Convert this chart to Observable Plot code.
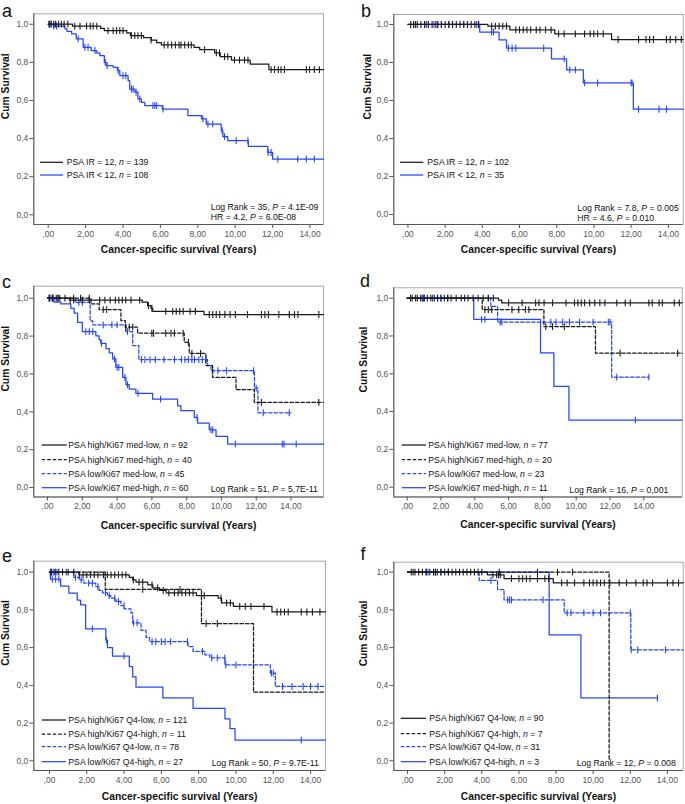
<!DOCTYPE html>
<html><head><meta charset="utf-8">
<script src="https://cdn.jsdelivr.net/npm/d3@7"></script>
<script src="https://cdn.jsdelivr.net/npm/@observablehq/plot@0.6"></script>
<style>
body{margin:0;background:#fff;}
#root{position:relative;width:685px;height:804px;overflow:hidden;font-family:"Liberation Sans",Arial,sans-serif;background:#fff;}
#root > svg.panel{position:absolute;overflow:visible;}
#overlay{position:absolute;left:0;top:0;pointer-events:none;}
</style></head>
<body><div id="root"></div>
<script>
// ---------- shared labels ----------
const xTicks = [0, 2, 4, 6, 8, 10, 12, 14];
const yTicks = [0, 0.2, 0.4, 0.6, 0.8, 1.0];
const xTitle = "Cancer-specific survival (Years)";
const yTitle = "Cum Survival";
const panelLetters = ["a", "b", "c", "d", "e", "f"];

// ---------- panel a ----------
const aGroups = ["PSA IR = 12", "PSA IR < 12"];
const aCounts = [139, 108];
const aStats = ["Log Rank = 35", "4.1E-09", "HR = 4.2", "6.0E-08"];
const aHighSteps = [[0,1],[1.3,0.99],[2.8,0.978],[3.0,0.966],[4.2,0.954],[4.4,0.94],[5.1,0.93],[5.5,0.917],[5.8,0.904],[6.05,0.891],[7.8,0.879],[8.1,0.866],[8.9,0.85],[9.2,0.83],[9.8,0.812],[10.8,0.79],[11.8,0.762],[14.72,0.762]];
const aHighCensor = [0.05,0.15,0.3,0.4,0.55,0.7,0.85,1.05,1.42,1.7,2.05,2.25,2.4,2.6,3.2,3.47,3.65,3.83,4.0,4.45,4.63,4.8,4.98,5.5,6.2,6.4,6.6,6.8,7.0,7.1,7.3,7.5,7.65,8.36,8.99,9.16,9.43,9.6,9.96,10.23,10.5,10.68,11.92,12.1,12.3,12.45,12.63,13.8,13.97,14.23,14.5];
const aLowSteps = [[0,1],[0.27,0.99],[0.9,0.975],[1.0,0.963],[1.25,0.949],[1.5,0.923],[1.87,0.879],[2.3,0.862],[2.6,0.848],[2.76,0.835],[3.0,0.8],[3.1,0.783],[3.47,0.774],[3.7,0.757],[3.83,0.73],[4.27,0.704],[4.36,0.66],[4.63,0.643],[4.8,0.608],[4.98,0.59],[5.16,0.573],[6.1,0.555],[7.47,0.52],[8.2,0.503],[8.45,0.476],[9.25,0.441],[9.34,0.41],[9.6,0.389],[10.7,0.359],[11.74,0.327],[12.0,0.292],[14.72,0.292]];
const aLowCensor = [0.05,0.15,0.3,0.45,1.6,1.96,2.13,2.5,3.05,3.15,3.74,4.0,4.15,4.45,4.54,4.7,4.9,5.6,5.7,5.8,6.14,8.27,8.54,8.8,9.3,9.43,10.05,10.68,11.76,11.92,12.28,13.34,13.8,14.23];

// ---------- panel b ----------
const bGroups = ["PSA IR = 12", "PSA IR < 12"];
const bCounts = [102, 35];
const bStats = ["Log Rank = 7.8", "0.005", "HR = 4.6", "0.010"];
const bHighSteps = [[0,1],[4.3,0.991],[5.48,0.972],[7.9,0.951],[10.95,0.921],[14.8,0.921]];
const bHighCensor = [0.15,0.3,0.4,0.5,0.7,0.9,1.1,1.3,1.5,1.6,1.8,2.0,2.2,2.4,2.6,2.8,3.0,3.2,3.4,3.6,3.8,4.5,4.7,4.9,5.1,5.3,5.8,6.0,6.2,6.4,6.6,6.9,7.1,7.4,7.7,8.1,8.4,9.0,9.5,9.8,10.0,10.2,10.5,11.3,12.4,12.8,13.0,13.2,13.9,14.1,14.4,14.7];
const bLowSteps = [[0,1],[3.86,0.96],[4.9,0.919],[5.3,0.875],[7.72,0.819],[8.53,0.761],[9.43,0.693],[12.12,0.554],[14.8,0.554]];
const bLowCensor = [0.9,1.0,1.4,1.6,1.8,2.2,3.0,3.7,4.5,4.6,5.4,5.6,5.8,7.3,8.4,8.7,9.0,9.5,10.2,12.0,12.05,12.4,13.5,13.9];

// ---------- panel c ----------
const cGroups = ["PSA high/Ki67 med-low", "PSA high/Ki67 med-high", "PSA low/Ki67 med-low", "PSA low/Ki67 med-high"];
const cCounts = [92, 40, 45, 60];
const cStats = ["Log Rank = 51", "5,7E-11"];
const cHighLowSteps = [[0,1],[1.25,0.99],[5.45,0.979],[5.75,0.961],[5.95,0.947],[6.05,0.931],[9.0,0.914],[15.87,0.914]];
const cHighLowCensor = [0.1,0.3,0.5,0.7,1.0,1.3,1.5,2.0,2.4,3.0,3.3,3.6,3.9,4.1,4.3,4.5,4.8,5.3,5.8,6.0,6.8,7.2,7.4,7.6,7.8,8.2,8.5,9.3,9.5,9.7,9.9,10.2,10.5,10.8,11.5,12.3,12.5,12.7,13.3,13.9,14.2,14.4,15.6];
const cHighHighSteps = [[0,1],[2.5,0.97],[2.97,0.94],[4.22,0.882],[4.47,0.847],[5.18,0.815],[7.86,0.767],[8.15,0.709],[9.11,0.644],[9.49,0.582],[10.84,0.517],[11.89,0.45],[15.87,0.45]];
const cHighHighCensor = [0.3,0.6,1.5,1.9,2.4,3.2,3.4,4.5,4.7,4.9,6.0,6.1,6.8,7.1,7.3,7.8,8.1,8.3,8.8,12.3,15.6];
const cLowLowSteps = [[0,1],[1.6,0.978],[2.45,0.88],[2.6,0.859],[4.5,0.824],[4.9,0.75],[5.25,0.676],[9.2,0.645],[9.4,0.617],[11.9,0.525],[12.1,0.395],[14.0,0.395]];
const cLowLowCensor = [0.1,0.3,0.6,1.8,2.0,3.2,3.7,4.0,4.6,5.4,5.6,5.9,6.2,6.7,7.3,7.7,7.9,8.1,8.3,8.45,8.7,8.9,9.1,9.5,9.8,10.3,11.85,12.0,12.4,13.9];
const cLowHighSteps = [[0,1],[0.38,0.979],[0.77,0.97],[1.34,0.947],[1.53,0.921],[1.73,0.873],[2.0,0.824],[2.78,0.801],[2.97,0.781],[3.07,0.762],[3.36,0.734],[3.55,0.711],[3.74,0.679],[3.93,0.635],[4.32,0.582],[4.51,0.543],[4.7,0.52],[5.08,0.497],[6.04,0.467],[7.48,0.432],[7.67,0.406],[8.44,0.37],[8.63,0.34],[9.3,0.305],[9.69,0.27],[10.36,0.229],[15.87,0.229]];
const cLowHighCensor = [0.1,0.2,2.2,2.4,2.6,3.1,3.85,4.0,4.1,4.45,4.6,5.2,6.5,8.6,9.4,9.5,10.8,13.5,13.6,14.3];

// ---------- panel d ----------
const dGroups = ["PSA high/Ki67 med-low", "PSA high/Ki67 med-high", "PSA low/Ki67 med-low", "PSA low/Ki67 med-high"];
const dCounts = [77, 20, 23, 11];
const dStats = ["Log Rank = 16", "0,001"];
const dHighLowSteps = [[0,1],[5.4,0.99],[5.6,0.975],[16.27,0.975]];
const dHighLowCensor = [0.2,0.3,0.5,0.6,0.8,1.0,1.2,1.4,1.6,1.8,2.0,2.2,2.4,2.6,2.9,3.2,3.4,3.6,3.9,4.2,4.5,4.8,5.1,6.0,6.8,7.6,7.8,8.1,8.6,9.4,9.9,10.1,10.3,10.5,10.8,11.1,11.4,11.7,12.4,12.9,13.2,14.3,14.5,14.9,15.1,15.8,16.1];
const dHighHighSteps = [[0,1],[4.44,0.94],[8.09,0.85],[11.14,0.709],[16.27,0.709]];
const dHighHighCensor = [4.6,4.8,5.0,6.2,6.6,7.0,7.2,8.2,8.6,9.3,12.6,16.0];
const dLowLowSteps = [[0,1],[4.95,0.957],[5.35,0.873],[12.1,0.582],[14.3,0.582]];
const dLowLowCensor = [0.9,1.0,1.5,1.8,2.0,2.4,4.8,5.5,5.6,8.5,8.8,9.2,9.6,10.2,11.0,11.9,12.0,12.4,14.3];
const dLowHighSteps = [[0,1],[3.94,0.888],[7.89,0.71],[8.68,0.533],[9.57,0.355],[16.27,0.355]];
const dLowHighCensor = [0.9,1.0,4.4,4.6,13.5];

// ---------- panel e ----------
const eGroups = ["PSA high/Ki67 Q4-low", "PSA high/Ki67 Q4-high", "PSA low/Ki67 Q4-low", "PSA low/Ki67 Q4-high"];
const eCounts = [121, 11, 78, 27];
const eStats = ["Log Rank = 50", "9.7E-11"];
const eHighLowSteps = [[0,1],[1.58,0.986],[4.28,0.973],[4.46,0.959],[4.64,0.947],[5.27,0.933],[5.54,0.917],[5.9,0.903],[6.26,0.891],[7.88,0.876],[9.05,0.862],[9.23,0.837],[9.86,0.819],[11.93,0.789],[14.8,0.789]];
const eHighLowCensor = [0.1,0.3,0.5,0.7,1.0,1.3,1.6,1.8,2.0,2.2,2.4,2.6,2.9,3.1,3.3,3.5,3.7,3.9,4.1,4.5,4.8,5.0,5.5,5.8,6.1,6.4,6.7,6.9,7.1,7.3,7.5,7.7,8.3,9.2,9.5,9.7,10.2,10.5,10.8,11.5,12.2,12.4,12.6,12.8,13.5,13.8,14.1,14.5];
const eHighHighSteps = [[0,1],[2.99,0.909],[8.15,0.727],[10.94,0.364],[14.8,0.364]];
const eHighHighCensor = [5.0,7.0,8.4,9.0];
const eLowLowSteps = [[0,1],[1.31,0.973],[1.58,0.959],[1.85,0.942],[2.48,0.924],[2.66,0.903],[2.84,0.891],[3.11,0.876],[3.29,0.862],[3.56,0.845],[3.83,0.823],[4.01,0.806],[4.37,0.784],[4.46,0.731],[4.91,0.691],[5.18,0.655],[5.36,0.632],[7.43,0.606],[7.7,0.58],[8.33,0.562],[8.6,0.546],[9.41,0.509],[11.84,0.465],[12.11,0.394],[14.8,0.394]];
const eLowLowCensor = [0.05,0.1,0.2,0.3,0.4,0.9,1.4,1.7,2.1,2.3,2.6,3.0,3.2,3.5,3.7,4.0,4.5,4.7,5.5,5.7,6.0,6.2,6.5,7.4,8.2,8.7,9.0,9.4,9.45,10.0,11.9,12.0,12.5,13.0,13.6,14.0,14.4];
const eLowHighSteps = [[0,1],[0.05,0.963],[0.6,0.926],[1.04,0.889],[1.49,0.852],[1.67,0.827],[1.94,0.7],[3.02,0.64],[3.11,0.6],[3.38,0.555],[4.28,0.5],[4.46,0.445],[4.64,0.39],[6.08,0.333],[7.7,0.278],[9.41,0.222],[9.68,0.17],[9.95,0.11],[14.8,0.11]];
const eLowHighCensor = [0.15,0.33,0.5,2.3,3.06,4.0,13.5];

// ---------- panel f ----------
const fGroups = ["PSA high/Ki67 Q4-low", "PSA high/Ki67 Q4-high", "PSA low/Ki67 Q4-low", "PSA low/Ki67 Q4-high"];
const fCounts = [90, 7, 31, 3];
const fStats = ["Log Rank = 12", "0.008"];
const fHighLowSteps = [[0,1],[4.3,0.986],[5.2,0.966],[7.85,0.943],[14.85,0.943]];
const fHighLowCensor = [0.2,0.3,0.4,0.6,0.8,1.0,1.2,1.4,1.5,1.6,1.8,2.0,2.2,2.4,2.6,2.8,3.0,3.2,3.4,3.6,3.8,4.0,4.6,4.8,4.9,5.0,5.6,6.0,6.2,6.4,6.6,7.0,7.4,7.6,8.3,8.6,9.0,9.5,9.8,10.0,10.2,10.4,10.6,10.9,11.4,11.8,12.3,12.7,12.9,13.2,14.0,14.3,14.6];
const fHighHighSteps = [[0,1],[10.86,0]];
const fHighHighCensor = [4.94,7.0,8.08,8.89];
const fLowLowSteps = [[0,1],[3.86,0.956],[4.85,0.908],[5.2,0.853],[8.44,0.784],[12.03,0.588],[14.85,0.588]];
const fLowLowCensor = [1.0,1.1,1.5,1.8,2.2,4.5,5.4,5.5,5.6,7.3,8.6,8.8,9.5,10.0,10.4,12.0,12.05,12.4,13.9];
const fLowHighSteps = [[0,1],[7.63,0.667],[9.34,0.333],[13.46,0.333]];
const fLowHighCensor = [13.46];

// ---------- styling ----------
const BLACK = "#1a1a1a";
const BLUE = "#2346ff";
const DASH = "3.5,2";
const styleHL = {color: BLACK, dash: null};
const styleHH = {color: BLACK, dash: DASH};
const styleLL = {color: BLUE, dash: DASH};
const styleLH = {color: BLUE, dash: null};

const fmtX = d => d === 0 ? ",00" : d.toFixed(2).replace(".", ",");
const fmtY = d => d.toFixed(1).replace(".", ",");
const vtick = {draw(ctx, size) { const r = Math.sqrt(size / Math.PI); ctx.moveTo(0, -r); ctx.lineTo(0, r); }};
function survAt(steps, t) { let s = steps[0][1]; for (const [x, y] of steps) { if (x <= t + 1e-9) s = y; else break; } return s; }

// layout of each panel in page pixels: frame edges L,R,T,B; svg origin left/top
const panels = [
  {lx: 2, ly: 16.5, left: 0, top: 0, L: 33.3, R: 323, T: 13.3, B: 224, x: [-0.77, 14.72], y: [-0.0509, 1.0546], ytDx: -28, xtDy: 28.5,
   series: [[aLowSteps, aLowCensor, styleLH], [aHighSteps, aHighCensor, styleHL]],
   legend: {groups: aGroups, counts: aCounts, styles: [styleHL, styleLH], rows: [162.3, 175], lx: [40, 63], tx: 66.7},
   stats: {x: 210.7, rows: [206.7, 217.3], text: aStats}},
  {lx: 361, ly: 16.5, left: 350, top: 0, L: 393.3, R: 682.7, T: 14, B: 224, x: [-0.76, 14.8], y: [-0.0526, 1.0526], ytDx: -26.5, xtDy: 28.5,
   series: [[bLowSteps, bLowCensor, styleLH], [bHighSteps, bHighCensor, styleHL]],
   legend: {groups: bGroups, counts: bCounts, styles: [styleHL, styleLH], rows: [162.3, 175], lx: [400, 423.3], tx: 427.3},
   stats: {x: 577.3, rows: [207.7, 217.7], text: bStats}},
  {lx: 2, ly: 288, left: 0, top: 270, L: 33.3, R: 323, T: 285.7, B: 496.5, x: [-0.79, 15.87], y: [-0.05, 1.0635], ytDx: -28, xtDy: 31.5,
   series: [[cLowHighSteps, cLowHighCensor, styleLH], [cLowLowSteps, cLowLowCensor, styleLL], [cHighHighSteps, cHighHighCensor, styleHH], [cHighLowSteps, cHighLowCensor, styleHL]],
   legend: {groups: cGroups, counts: cCounts, styles: [styleHL, styleHH, styleLL, styleLH], rows: [445, 459.5, 473.5, 487.7], lx: [41.7, 66.7], tx: 68.3},
   stats: {x: 210.7, rows: [489.3], text: cStats}},
  {lx: 360, ly: 286.5, left: 350, top: 270, L: 393.3, R: 681.7, T: 287.3, B: 496.5, x: [-0.79, 16.27], y: [-0.0519, 1.055], ytDx: -30, xtDy: 31.5,
   series: [[dLowHighSteps, dLowHighCensor, styleLH], [dLowLowSteps, dLowLowCensor, styleLL], [dHighHighSteps, dHighHighCensor, styleHH], [dHighLowSteps, dHighLowCensor, styleHL]],
   legend: {groups: dGroups, counts: dCounts, styles: [styleHL, styleHH, styleLL, styleLH], rows: [445, 459.5, 473.5, 487.7], lx: [401.7, 426], tx: 428.3},
   stats: {x: 569.3, rows: [490], text: dStats}},
  {lx: 2, ly: 561.5, left: 0, top: 545, L: 33.3, R: 325, T: 560.7, B: 770, x: [-0.84, 14.8], y: [-0.0514, 1.0583], ytDx: -28, xtDy: 29.5,
   series: [[eLowHighSteps, eLowHighCensor, styleLH], [eLowLowSteps, eLowLowCensor, styleLL], [eHighHighSteps, eHighHighCensor, styleHH], [eHighLowSteps, eHighLowCensor, styleHL]],
   legend: {groups: eGroups, counts: eCounts, styles: [styleHL, styleHH, styleLL, styleLH], rows: [720, 734, 746.7, 761.7], lx: [41.7, 66], tx: 68.3},
   stats: {x: 211.7, rows: [763.3], text: eStats}},
  {lx: 360.5, ly: 560, left: 350, top: 545, L: 393.3, R: 682.7, T: 561.7, B: 770, x: [-0.74, 14.85], y: [-0.0514, 1.053], ytDx: -30, xtDy: 29.5,
   series: [[fLowHighSteps, fLowHighCensor, styleLH], [fLowLowSteps, fLowLowCensor, styleLL], [fHighHighSteps, fHighHighCensor, styleHH], [fHighLowSteps, fHighLowCensor, styleHL]],
   legend: {groups: fGroups, counts: fCounts, styles: [styleHL, styleHH, styleLL, styleLH], rows: [718.3, 733.5, 746.7, 761.7], lx: [400.7, 426], tx: 429.3},
   stats: {x: 576.7, rows: [763.3], text: fStats}}
];

const root = document.getElementById("root");
const BOTTOM = 34;

for (const p of panels) {
  const marks = [
    Plot.frame({stroke: "#a9a9a9", strokeWidth: 1}),
    Plot.ruleX([p.x[0]], {stroke: "#555", strokeWidth: 1}),
    Plot.ruleY([p.y[0]], {stroke: "#555", strokeWidth: 1}),
    Plot.axisX(xTicks, {tickSize: 4, tickPadding: 2, tickFormat: fmtX, fontSize: 8.5, color: "#555", label: null}),
    Plot.axisY(yTicks, {tickSize: 4, tickPadding: 1.5, tickFormat: fmtY, fontSize: 8.5, color: "#555", label: null})
  ];
  for (const [steps, censor, st] of p.series) {
    marks.push(Plot.line(steps, {x: d => d[0], y: d => d[1], curve: "step-after", stroke: st.color, strokeWidth: 1.25, strokeDasharray: st.dash || undefined}));
    marks.push(Plot.dot(censor, {x: d => d, y: d => survAt(steps, d), symbol: vtick, r: 3.4, stroke: st.color, strokeWidth: 1.1, fill: "none"}));
  }
  marks.push(Plot.text([xTitle], {text: d => d, frameAnchor: "bottom", dy: p.xtDy, fontWeight: "bold", fontSize: 10.3, fill: "#111"}));
  marks.push(Plot.text([yTitle], {text: d => d, frameAnchor: "left", dx: p.ytDx, rotate: -90, fontWeight: "bold", fontSize: 10.3, fill: "#111"}));

  const chart = Plot.plot({
    width: p.R - p.left + 2,
    height: p.B - p.top + BOTTOM,
    marginLeft: p.L - p.left,
    marginRight: 2,
    marginTop: p.T - p.top,
    marginBottom: BOTTOM,
    x: {domain: p.x},
    y: {domain: p.y},
    style: {fontFamily: "'Liberation Sans', Arial, sans-serif", background: "transparent", overflow: "visible"},
    marks
  });
  chart.classList.add("panel");
  chart.style.left = p.left + "px";
  chart.style.top = p.top + "px";
  root.appendChild(chart);
}

// overlay for panel letters, in-plot legends and statistics
const ns = "http://www.w3.org/2000/svg";
const ov = document.createElementNS(ns, "svg");
ov.setAttribute("id", "overlay");
ov.setAttribute("width", 685);
ov.setAttribute("height", 804);
ov.setAttribute("font-family", "'Liberation Sans', Arial, sans-serif");
root.appendChild(ov);

function el(tag, attrs, parent) { const e = document.createElementNS(ns, tag); for (const k in attrs) e.setAttribute(k, attrs[k]); (parent || ov).appendChild(e); return e; }
function richText(x, y, parts, size) {
  const t = el("text", {x, y, dy: "0.35em", "font-size": size, fill: "#111"});
  for (const [s, it] of parts) { const ts = el("tspan", it ? {"font-style": "italic"} : {}, t); ts.textContent = s; }
  return t;
}

panels.forEach((p, i) => {
  const L = el("text", {x: p.lx, y: p.ly, "font-size": 18, fill: "#111"});
  L.textContent = panelLetters[i];
  const lg = p.legend;
  lg.groups.forEach((g, j) => {
    const y = lg.rows[j], st = lg.styles[j];
    const a = {x1: lg.lx[0], x2: lg.lx[1], y1: y, y2: y, stroke: st.color, "stroke-width": 1.25};
    if (st.dash) a["stroke-dasharray"] = st.dash;
    el("line", a);
    richText(lg.tx, y, [[g + ", ", false], ["n", true], [" = " + lg.counts[j], false]], 8.7);
  });
  const s = p.stats;
  for (let r = 0; r < s.rows.length; r++) {
    richText(s.x, s.rows[r], [[s.text[2 * r] + ", ", false], ["P", true], [" = " + s.text[2 * r + 1], false]], 8.7);
  }
});
</script></body></html>
